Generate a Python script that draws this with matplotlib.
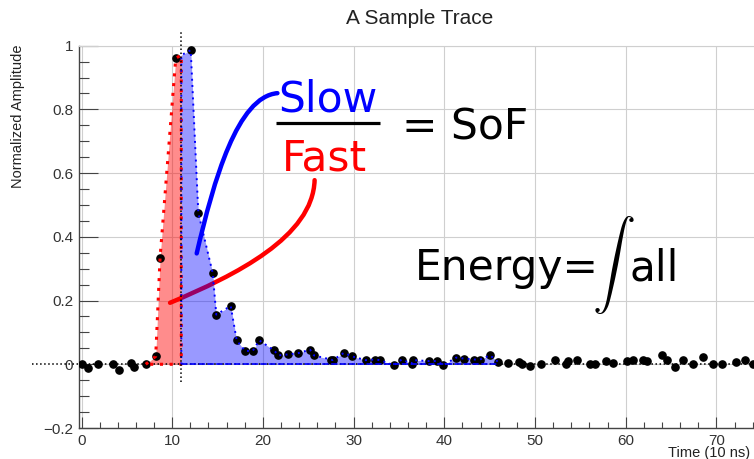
import matplotlib
matplotlib.use("Agg")
import matplotlib.pyplot as plt
import numpy as np
from matplotlib.path import Path
from matplotlib.patches import PathPatch
from matplotlib.ticker import MultipleLocator, FixedLocator, FixedFormatter

# sample times (10 ns) and normalized amplitudes
time = [0.0, 0.75, 1.85, 3.5, 4.13, 5.46, 5.82, 7.08, 8.18, 8.66,
        10.39, 12.04, 12.88, 14.46, 14.86, 16.45, 17.11, 18.03, 18.88, 19.6,
        21.22, 21.7, 22.8, 23.9, 25.19, 25.63, 27.48, 27.7, 28.94, 29.79,
        31.33, 32.36, 32.9, 34.45, 35.3, 36.4, 36.6, 38.35, 39.23, 39.9,
        41.29, 42.17, 43.27, 43.94, 45.04, 45.95, 47.06, 48.27, 48.57, 49.45,
        50.63, 52.2, 53.4, 53.67, 54.6, 56.06, 56.6, 57.83, 58.63, 60.1,
        60.84, 61.94, 62.3, 63.97, 64.52, 65.44, 66.35, 67.45, 68.48, 69.65,
        70.58, 72.16, 73.15, 74.07]
amp = [0.0, -0.013, 0.002, 0.002, -0.019, 0.004, -0.01, 0.0, 0.025, 0.334,
       0.961, 0.986, 0.475, 0.287, 0.156, 0.183, 0.075, 0.042, 0.042, 0.075,
       0.044, 0.028, 0.031, 0.035, 0.046, 0.028, 0.015, 0.013, 0.036, 0.025,
       0.013, 0.015, 0.013, -0.003, 0.015, 0.002, 0.013, 0.01, 0.01, -0.003,
       0.021, 0.018, 0.015, 0.015, 0.028, 0.007, 0.005, 0.007, 0.0, -0.006,
       0.002, 0.013, 0.0, 0.01, 0.013, 0.0, 0.0, 0.01, 0.004, 0.01,
       0.013, 0.013, 0.01, 0.028, 0.015, -0.01, 0.013, 0.002, 0.023, 0.0,
       0.0, 0.007, 0.013, 0.002]

fast_start = 7.08   # start of pulse
split = 11.0        # fast / slow boundary
slow_end = 45.95    # end of slow integration

xticks = [0, 10, 20, 30, 40, 50, 60, 70]
yticks = [-0.2, 0, 0.2, 0.4, 0.6, 0.8, 1.0]
ylabels = ["\u22120.2", "0", "0.2", "0.4", "0.6", "0.8", "1"]

t = np.array(time)
a = np.array(amp)
a_split = np.interp(split, t, a)

m = (t >= fast_start) & (t < split)
tf = np.r_[t[m], split]
af = np.r_[a[m], a_split]
m = (t > split) & (t <= slow_end)
ts = np.r_[split, t[m]]
as_ = np.r_[a_split, a[m]]

W, H = 754, 459
fig = plt.figure(figsize=(W / 100, H / 100), dpi=100)
ax = fig.add_axes([78.8 / W, 31 / H, 692 / W, 382.3 / H])
ax.set_xlim(-0.3, 76)
ax.set_ylim(-0.2, 1.0)

ax.grid(True, which="major", color="#cfcfcf", lw=0.8)
ax.set_axisbelow(True)

# annotation curves (under the fills)
blue_path = Path([(12.7, 0.348), (14.6, 0.58), (17.2, 0.84), (21.6, 0.851)],
                 [Path.MOVETO, Path.CURVE4, Path.CURVE4, Path.CURVE4])
red_path = Path([(9.76, 0.193), (17.0, 0.28), (25.5, 0.40), (25.7, 0.578)],
                [Path.MOVETO, Path.CURVE4, Path.CURVE4, Path.CURVE4])
ax.add_patch(PathPatch(blue_path, fc="none", ec="#0000ff", lw=3.2, zorder=2, capstyle="round"))
ax.add_patch(PathPatch(red_path, fc="none", ec="#ff0000", lw=3.2, zorder=2, capstyle="round"))

# fills
ax.fill_between(tf, 0, af, color="#ff0000", alpha=0.45, lw=0, zorder=3)
ax.fill_between(ts, 0, as_, color="#0000ff", alpha=0.4, lw=0, zorder=3)

# baseline and split marker
ax.plot([-5.5, 80], [0, 0], color="black", ls=":", lw=1.1, clip_on=False, zorder=4)
ax.plot([split, split], [-0.057, 1.05], color="black", ls=":", lw=1.1, clip_on=False, zorder=7)

# samples
ax.plot(t, a, "o", color="black", ms=5.2, zorder=5)

# outlines of the regions
ax.plot(np.r_[tf, split, tf[0]], np.r_[af, 0, 0], color="#ff0000", ls=(0, (1, 2.2)),
        lw=2.2, zorder=6)
ax.plot(np.r_[split, ts], np.r_[0, as_], color="#0000ff", ls=(0, (1, 2.2)), lw=1.4, zorder=6)
ax.plot([split, slow_end], [0, 0], color="#0000ff", ls="--", lw=1.2, zorder=6)

# fraction text
ax.text(21.67, 0.793, "Slow", color="#0000ff", fontsize=30.5, family="DejaVu Sans",
        ha="left", va="baseline", zorder=8)
ax.text(22.07, 0.609, "Fast", color="#ff0000", fontsize=30.5, family="DejaVu Sans",
        ha="left", va="baseline", zorder=8)
ax.plot([21.45, 32.9], [0.756, 0.756], color="black", lw=2.3, solid_capstyle="butt", zorder=8)
ax.text(35.34, 0.706, "= SoF", color="black", fontsize=30.5, family="DejaVu Sans",
        ha="left", va="baseline", zorder=8)
ax.text(36.77, 0.264, "Energy=", color="black", fontsize=30.5, family="DejaVu Sans",
        ha="left", va="baseline", zorder=8)
ax.text(58.6, 0.31, r"$\int$", color="black", fontsize=31, math_fontfamily="cm",
        ha="center", va="center", zorder=8)
ax.text(60.4, 0.264, "all", color="black", fontsize=30.5, family="DejaVu Sans",
        ha="left", va="baseline", zorder=8)

# axes styling (ROOT look)
ax.xaxis.set_major_locator(FixedLocator(xticks))
ax.xaxis.set_minor_locator(MultipleLocator(2))
ax.yaxis.set_major_locator(FixedLocator(yticks))
ax.yaxis.set_major_formatter(FixedFormatter(ylabels))
ax.yaxis.set_minor_locator(MultipleLocator(0.05))
ax.tick_params(axis="both", which="both", direction="in", color="#444444", width=0.8,
               labelcolor="#333333", labelsize=11)
ax.tick_params(axis="y", which="major", length=14, pad=4)
ax.tick_params(axis="y", which="minor", length=7)
ax.tick_params(axis="x", which="major", length=8, pad=4)
ax.tick_params(axis="x", which="minor", length=4)
for lab in ax.get_xticklabels() + ax.get_yticklabels():
    lab.set_family("Liberation Sans")
for s in ["left", "bottom"]:
    ax.spines[s].set_color("#444444")
    ax.spines[s].set_linewidth(1.0)
ax.spines["top"].set_color("#cfcfcf")
ax.spines["right"].set_visible(False)

fig.text(420 / W, 1 - 18 / H, "A Sample Trace", ha="center", va="center",
         fontsize=15, family="Liberation Sans", color="#222222")
fig.text(18 / W, 1 - 45 / H, "Normalized Amplitude", rotation=90, ha="center", va="top",
         fontsize=10.5, family="Liberation Sans", color="#222222")
fig.text(668 / W, 1 - 453 / H, "Time (10 ns)", ha="left", va="center",
         fontsize=10.5, family="Liberation Sans", color="#222222")

fig.savefig("out.png", dpi=100)
